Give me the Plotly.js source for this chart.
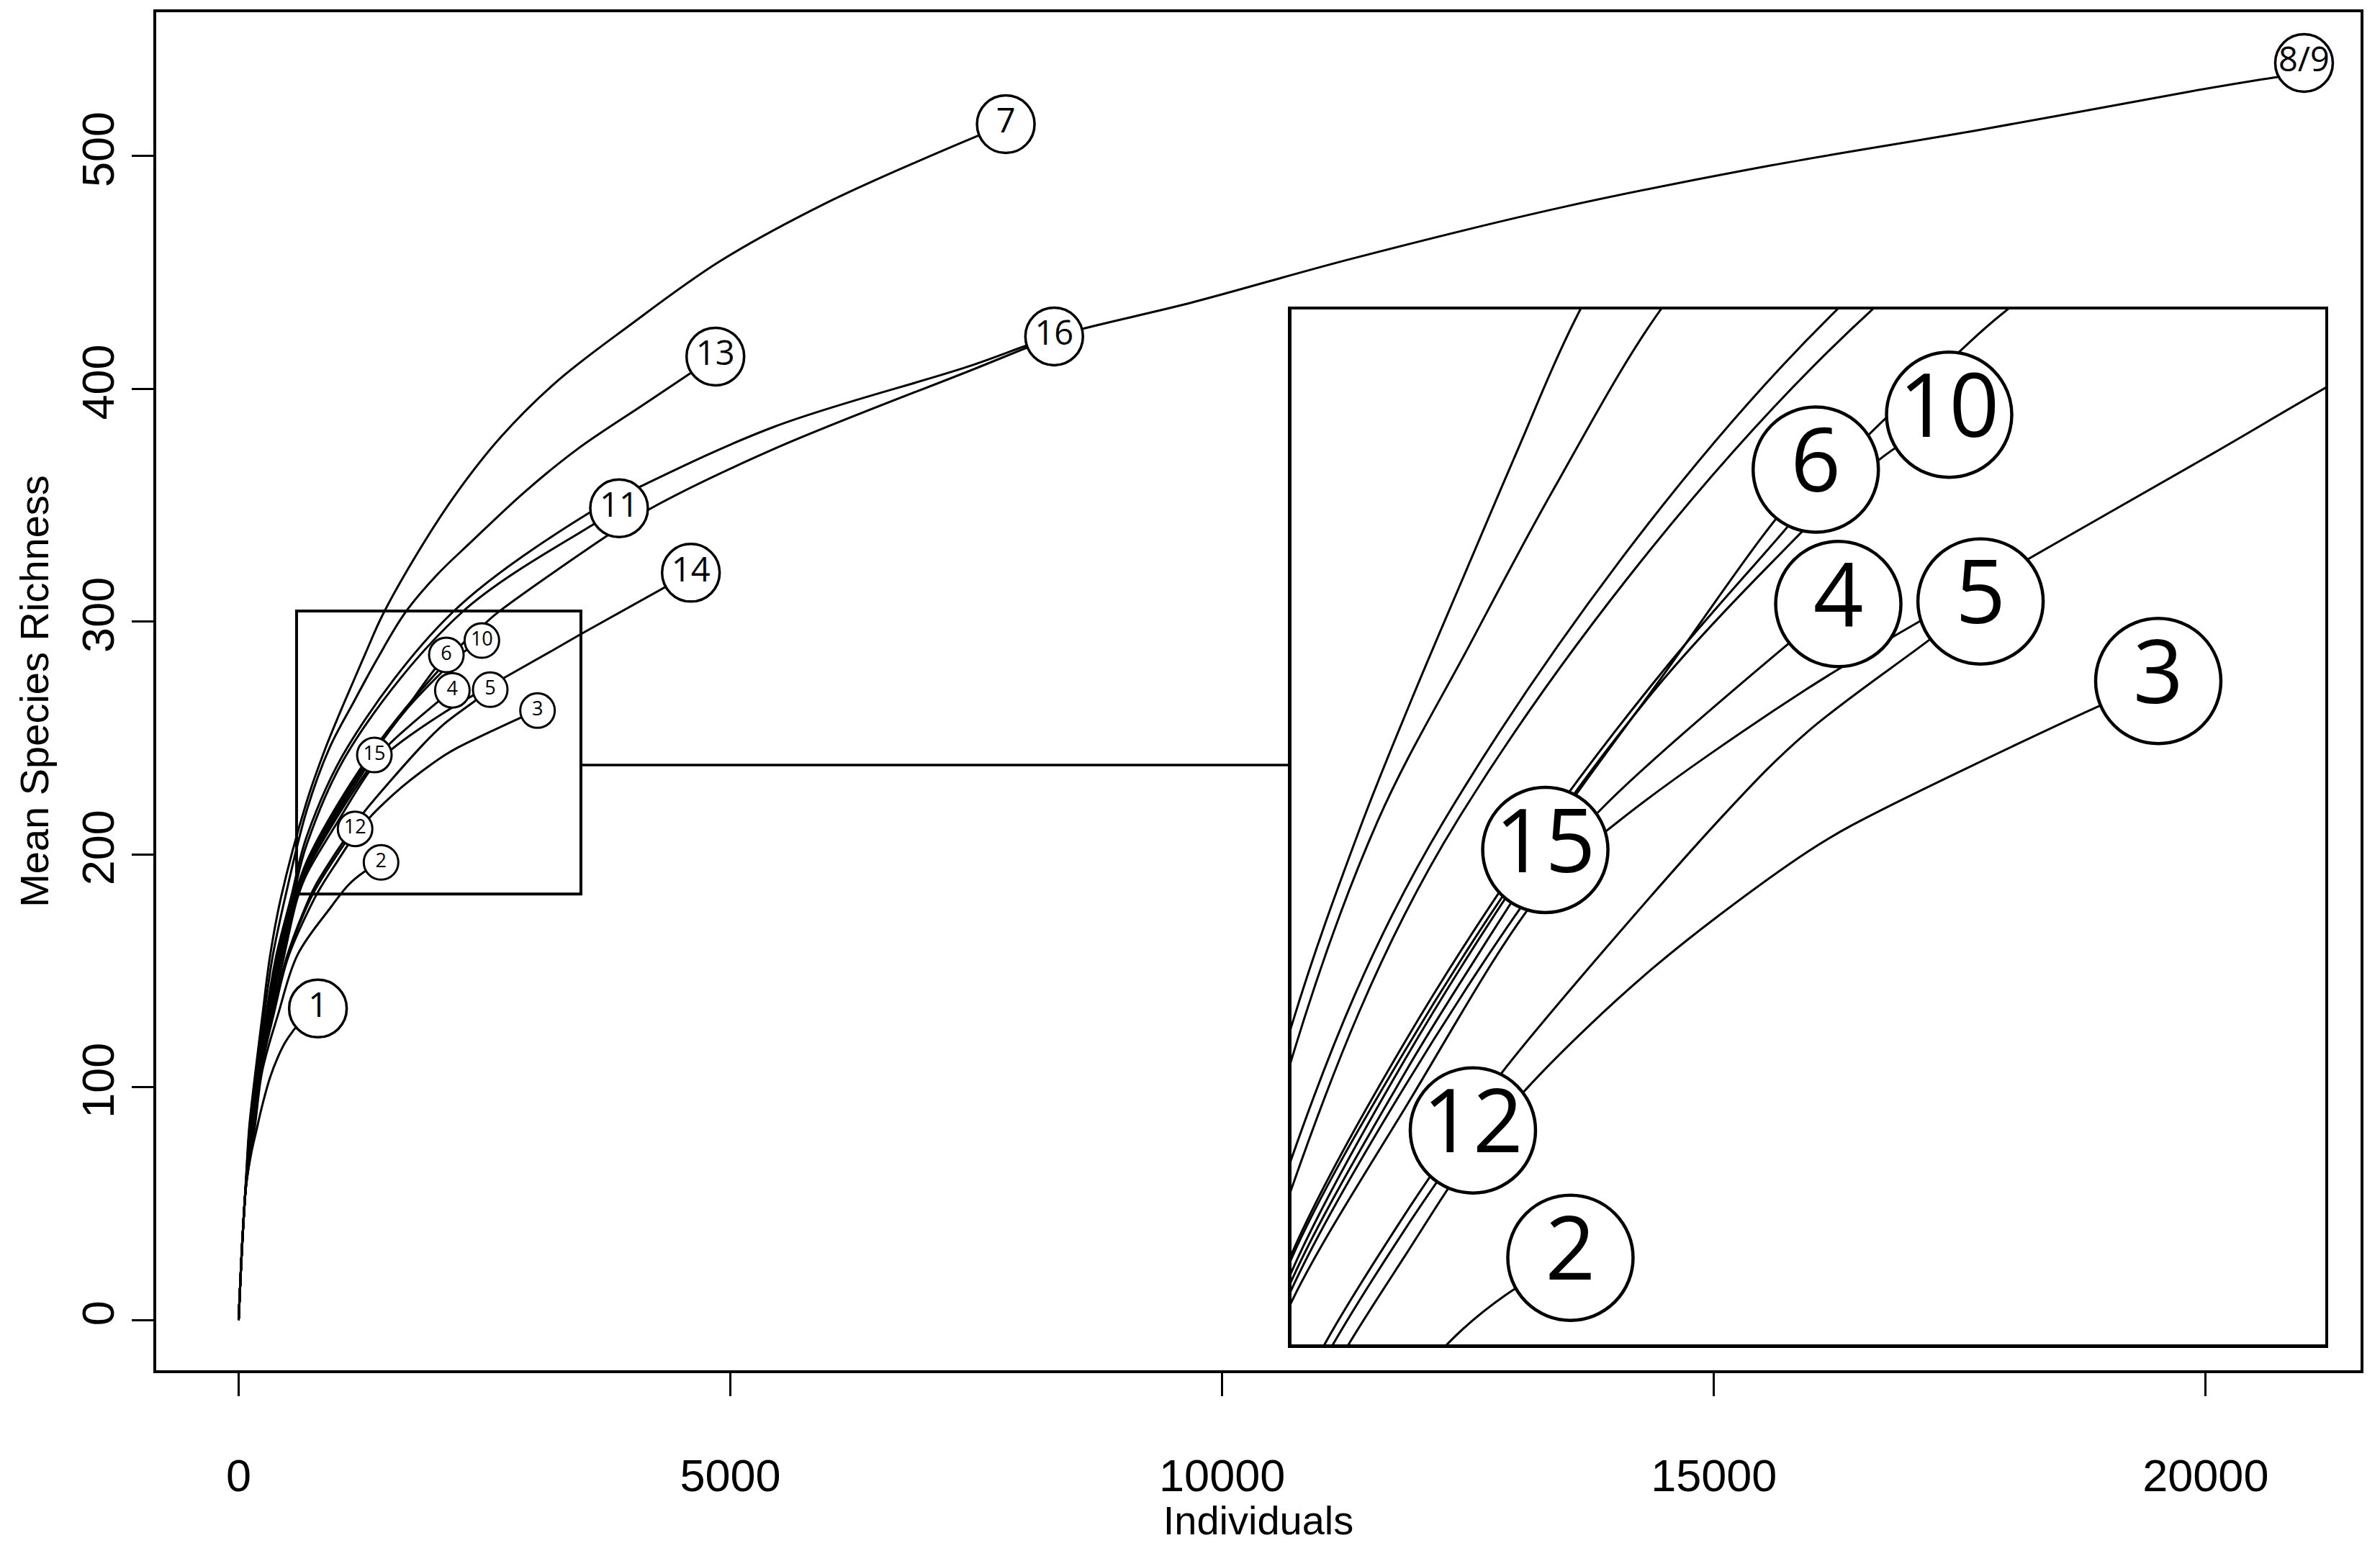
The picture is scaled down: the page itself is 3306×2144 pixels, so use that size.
<!DOCTYPE html>
<html>
<head>
<meta charset="utf-8">
<script src="https://cdn.plot.ly/plotly-3.0.1.min.js"></script>
<style>
  html, body { margin: 0; padding: 0; background: #fff; }
  #plotDiv { width: 3306px; height: 2144px; }
</style>
</head>
<body>
<div id="plotDiv"></div>
<script>
// Rarefaction curves (individuals vs mean species richness)
const x1 = [0, 38, 74, 130, 184, 233, 318, 400, 477, 550, 650, 806];
const y1 = [0, 34, 57, 72, 82, 91, 104, 113, 119.5, 124, 129, 133.8];

const x2 = [0, 38, 74, 165, 240, 404, 600, 941, 1114, 1273, 1448];
const y2 = [0, 33.5, 57, 83, 107, 131.7, 157, 177.5, 186.8, 192.4, 196.6];

const x3 = [0, 38, 74, 152, 226, 360, 505, 770, 847.6, 1000, 1184, 1329, 1490, 1670, 1850, 2090, 2210, 2870, 3039];
const y3 = [0, 34, 57, 83, 107, 132, 156, 181, 186.8, 196.8, 208.5, 215.7, 222.5, 229.3, 235.3, 242.5, 245.5, 258.8, 261.8];

const x4 = [0, 38, 74, 135, 210, 320, 440, 588, 693, 1000, 1380, 1538, 2026, 2173];
const y4 = [0, 34, 58, 83, 107, 132, 156, 181, 193, 216, 240, 247.6, 265.6, 270.5];

const x5 = [0, 38, 74, 148, 222, 350, 490, 716, 782.6, 1000, 1184, 1262, 1866, 2088, 2405, 2558];
const y5 = [0, 34, 57.5, 83, 107, 132, 156, 181, 186.8, 201.5, 212.8, 217.5, 246.8, 256, 266, 270.8];

const x6 = [0, 38, 74, 127, 202, 305, 415, 575, 693, 1000, 1380, 1700, 1965, 2112];
const y6 = [0, 34, 58, 83, 107, 132, 156, 181, 195, 219, 244, 262.5, 278, 285.7];

const x7 = [0, 38, 74, 108, 172, 245, 318, 428, 693, 877, 1016, 1168, 1311, 1459, 1855, 2229, 2672, 3239, 3966, 4893, 5962, 7030, 7800];
const y7 = [0, 35, 60, 83, 107, 132, 156, 181, 222.8, 245, 259.5, 274.5, 288.5, 302.5, 332, 356, 379.6, 403.3, 427, 454.8, 479.6, 500, 513.7];

const x89 = [0, 38, 74, 118, 190, 282, 380, 530, 693, 1105.7, 2170, 3559, 4073, 5450, 7404, 8292, 9701, 11307, 13445, 15583, 17721, 19859, 20720, 21000];
const y89 = [0, 34.5, 58.5, 83, 107, 132, 156, 181, 207.8, 246, 303.8, 346.6, 357.8, 383.8, 409.4, 422.5, 437.2, 455.8, 477.9, 496, 511.4, 527.9, 533.9, 535.5];

const x10 = [0, 38, 74, 126, 200, 300, 410, 565, 693, 1000, 1380, 1700, 2000, 2280, 2473];
const y10 = [0, 34, 58, 83, 107, 132, 156, 181, 196.5, 220, 244.5, 262, 275.5, 286.7, 291.9];

const x11 = [0, 38, 74, 120, 195, 290, 395, 550, 693, 1141.4, 2265, 3613, 3868];
const y11 = [0, 34.5, 58.5, 83, 107, 132, 156, 181, 204.4, 246, 303.8, 342, 348.7];

const x12 = [0, 38, 74, 150, 225, 355, 495, 731, 805.3, 1000, 1184];
const y12 = [0, 34, 57.5, 83, 107, 132, 156, 181, 186.8, 199.8, 211];

const x13 = [0, 38, 74, 112, 180, 262, 345, 470, 693, 926.7, 1172.8, 1405.4, 1689, 2015, 2370, 2902, 3434, 4144, 4847];
const y13 = [0, 34.5, 59, 83, 107, 132, 156, 181, 219, 246, 265.7, 283.7, 303.6, 320, 334.5, 355.5, 373.8, 394, 413.9];

const x14 = [0, 38, 74, 140, 215, 335, 460, 596, 693, 1000, 1380, 1580, 2088, 2558, 3186, 3494, 4598];
const y14 = [0, 34, 57.5, 83, 107, 132, 156, 181, 191.6, 213.5, 238.5, 246, 260.9, 272.5, 287.5, 295, 321];

const x15 = [0, 38, 74, 130, 205, 310, 425, 583, 693, 1000, 1200, 1380];
const y15 = [0, 34, 58, 83, 107, 132, 156, 181, 194, 217.5, 231, 242.7];

const x16 = [0, 38, 74, 124, 198, 298, 405, 560, 693, 1000, 1380, 1700, 2000, 2252, 2487, 2625, 3754, 4180, 5450, 7565, 8292];
const y16 = [0, 34, 58, 83, 107, 132, 156, 181, 197, 221, 245.5, 263, 277.5, 289.5, 298.5, 303.6, 337.1, 348.4, 374.3, 410, 422.5];

const curveXs = [x1, x2, x3, x4, x5, x6, x7, x89, x10, x11, x12, x13, x14, x15, x16];
const curveYs = [y1, y2, y3, y4, y5, y6, y7, y89, y10, y11, y12, y13, y14, y15, y16];

// site labels (circled numbers at the end of each curve)
const labelText = ["1", "2", "3", "4", "5", "6", "7", "8/9", "10", "11", "12", "13", "14", "15", "16"];
const labelX = [806, 1448, 3039, 2173, 2558, 2112, 7800, 21000, 2473, 3868, 1184, 4847, 4598, 1380, 8292];
const labelY = [133.8, 196.6, 261.8, 270.5, 270.8, 285.7, 513.7, 540, 291.9, 348.7, 211, 413.9, 321, 242.7, 422.5];

// axes
const xTicks = [0, 5000, 10000, 15000, 20000];
const yTicks = [0, 100, 200, 300, 400, 500];
const xRange = [-838, 21575];
const yRange = [-21.6, 561.8];

// zoom box in the main panel and the enlarged view
const zoomBoxX = [589, 3480];
const zoomBoxY = [183, 304.6];
const insetViewX = [693, 3491];
const insetViewY = [186.8, 303.8];
// where the enlarged panel sits, in main-panel units
const insetPlaceX = [10705, 21216];
const insetPlaceY = [-10.5, 434.1];
const connectorY = 238.4;

const toDomX = (v) => (v - xRange[0]) / (xRange[1] - xRange[0]);
const toDomY = (v) => (v - yRange[0]) / (yRange[1] - yRange[0]);

const traces = [];
const lineStyle = { color: "black", width: 3, shape: "spline", smoothing: 1 };

curveXs.forEach((xs, i) => {
  traces.push({ x: xs, y: curveYs[i], type: "scatter", mode: "lines", line: lineStyle,
    xaxis: "x", yaxis: "y", hoverinfo: "skip", showlegend: false });
  traces.push({ x: xs, y: curveYs[i], type: "scatter", mode: "lines", line: lineStyle,
    xaxis: "x2", yaxis: "y2", hoverinfo: "skip", showlegend: false });
});

// labels inside the zoom box are small in the main panel and repeated large in the inset
const inBox = labelX.map((x, i) => x > zoomBoxX[0] && x < zoomBoxX[1] &&
  labelY[i] > zoomBoxY[0] && labelY[i] < zoomBoxY[1]);
const pick = (arr, keep) => arr.filter((_, i) => inBox[i] === keep);

function labelTrace(xs, ys, txt, size, lw, fs, xa, ya) {
  return {
    x: xs, y: ys, text: txt, type: "scatter", mode: "markers+text",
    marker: { symbol: "circle", size: size, color: "white", line: { color: "black", width: lw } },
    textposition: "middle center",
    textfont: { family: "Open Sans, Noto Sans, sans-serif", size: fs, color: "black" },
    xaxis: xa, yaxis: ya, cliponaxis: false, hoverinfo: "skip", showlegend: false,
  };
}

traces.push(labelTrace(pick(labelX, false), pick(labelY, false), pick(labelText, false), 80, 3.5, 47, "x", "y"));
traces.push(labelTrace(pick(labelX, true), pick(labelY, true), pick(labelText, true), 48, 3, 27, "x", "y"));
traces.push(labelTrace(pick(labelX, true), pick(labelY, true), pick(labelText, true), 174, 4.5, 122, "x2", "y2"));

const layout = {
  width: 3306,
  height: 2144,
  margin: { l: 217, r: 27, t: 17, b: 240, pad: 0 },
  paper_bgcolor: "white",
  plot_bgcolor: "white",
  showlegend: false,
  font: { family: "Liberation Sans, Arial, Helvetica, sans-serif", color: "black" },
  xaxis: {
    range: xRange, tickvals: xTicks, tickformat: "d",
    ticks: "outside", ticklen: 32, tickwidth: 3, tickcolor: "black",
    showline: true, mirror: true, linewidth: 4, linecolor: "black",
    showgrid: false, zeroline: false,
    tickfont: { size: 63 }, ticklabelstandoff: 56,
    title: { text: "Individuals", font: { size: 56 }, standoff: 36 },
  },
  yaxis: {
    range: yRange, tickvals: yTicks, tickformat: "d", tickangle: -90,
    ticks: "outside", ticklen: 30, tickwidth: 3, tickcolor: "black",
    showline: true, mirror: true, linewidth: 4, linecolor: "black",
    showgrid: false, zeroline: false,
    tickfont: { size: 63 }, ticklabelstandoff: 0,
    title: { text: "Mean Species Richness", font: { size: 56 }, standoff: 16 },
  },
  xaxis2: {
    domain: [toDomX(insetPlaceX[0]), toDomX(insetPlaceX[1])],
    range: insetViewX, anchor: "y2",
    showticklabels: false, ticks: "", showline: true, mirror: true,
    linewidth: 4.5, linecolor: "black", showgrid: false, zeroline: false,
  },
  yaxis2: {
    domain: [toDomY(insetPlaceY[0]), toDomY(insetPlaceY[1])],
    range: insetViewY, anchor: "x2",
    showticklabels: false, ticks: "", showline: true, mirror: true,
    linewidth: 4.5, linecolor: "black", showgrid: false, zeroline: false,
  },
  shapes: [
    {
      type: "rect", xref: "x", yref: "y",
      x0: zoomBoxX[0], x1: zoomBoxX[1], y0: zoomBoxY[0], y1: zoomBoxY[1],
      line: { color: "black", width: 4 },
    },
    {
      type: "line", xref: "x", yref: "y",
      x0: zoomBoxX[1], x1: insetPlaceX[0], y0: connectorY, y1: connectorY,
      line: { color: "black", width: 3.5 },
    },
  ],
};

Plotly.newPlot("plotDiv", traces, layout, { staticPlot: true });
</script>
</body>
</html>
